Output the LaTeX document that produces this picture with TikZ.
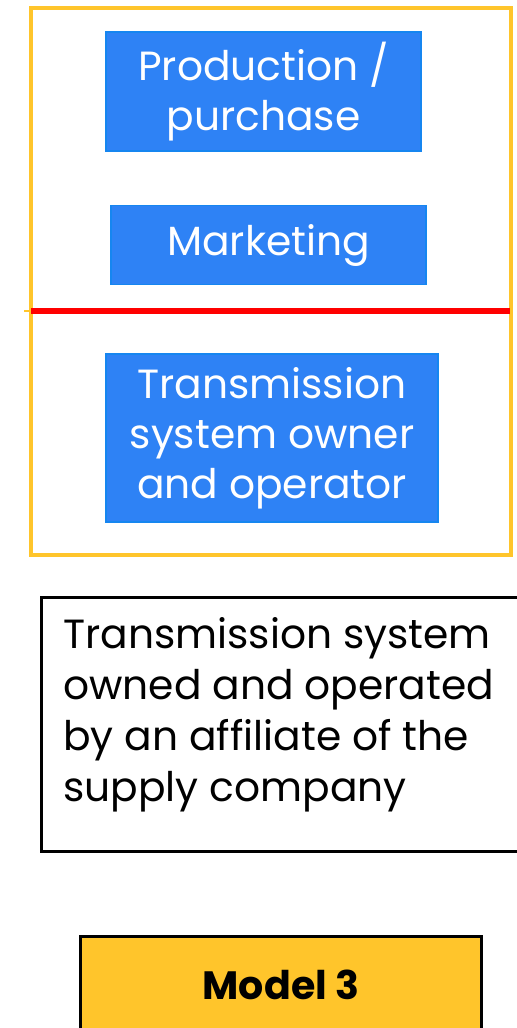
\documentclass[tikz,border=0pt]{standalone}
\usepackage{fontspec}
\setmainfont{Poppins}
\usetikzlibrary{positioning,calc}

\definecolor{frameorange}{RGB}{255,197,43}
\definecolor{boxblue}{RGB}{46,130,245}
\definecolor{boxblueline}{RGB}{22,134,240}

\tikzset{
    bluebox/.style={draw=boxblueline, line width=1pt, fill=boxblue, text=white,
        align=center, inner sep=0pt, font=\fontsize{23.2}{28.5}\selectfont},
    descbox/.style={draw=black, line width=1.7pt, inner sep=0pt},
    modelbox/.style={draw=black, line width=1.7pt, fill=frameorange, inner sep=0pt,
        font=\fontsize{22.5}{28.5}\selectfont\bfseries}
}

\begin{document}
\begin{tikzpicture}[x=0.02cm, y=-0.02cm]
        \useasboundingbox (0,0) rectangle (517,1028);

        %outer frame
        \coordinate (fnw) at (31, 8);
        \coordinate (fse) at (511, 555);
        \draw[frameorange, line width=2.5pt] (fnw) rectangle (fse);

        %divider
        \coordinate (dl) at (31, 311);
        \coordinate (dr) at (510, 311);
        \coordinate (tick) at (24, 311);
        \draw[frameorange, line width=1.6pt] (tick) -- (dl);
        \draw[red, line width=3pt] (dl) -- (dr);

        % blue boxes
        \node[bluebox, minimum width=6.3cm, minimum height=2.38cm] (prod) at (263.5, 91.5)
            {Production /\\purchase};
        \node[bluebox, minimum width=6.3cm, minimum height=1.58cm] (mark) at (268.5, 245)
            {Marketing};
        \node[bluebox, minimum width=6.64cm, minimum height=3.36cm] (tso) at (272, 438)
            {Transmission\\system owner\\and operator};

        % description
        \node[descbox, minimum width=10.5cm, minimum height=5.1cm] (desc) at (304, 724.5) {};
        \node[anchor=north west, align=left, inner sep=0pt,
            font=\fontsize{23.2}{29}\selectfont] (desctext) at (63, 617)
            {Transmission system\\owned and operated\\by an affiliate of the\\supply company};

        % model label
        \node[modelbox, minimum width=8.04cm, minimum height=1.96cm] (model) at (281, 985)
            {Model 3};

    \end{tikzpicture}
\end{document}
